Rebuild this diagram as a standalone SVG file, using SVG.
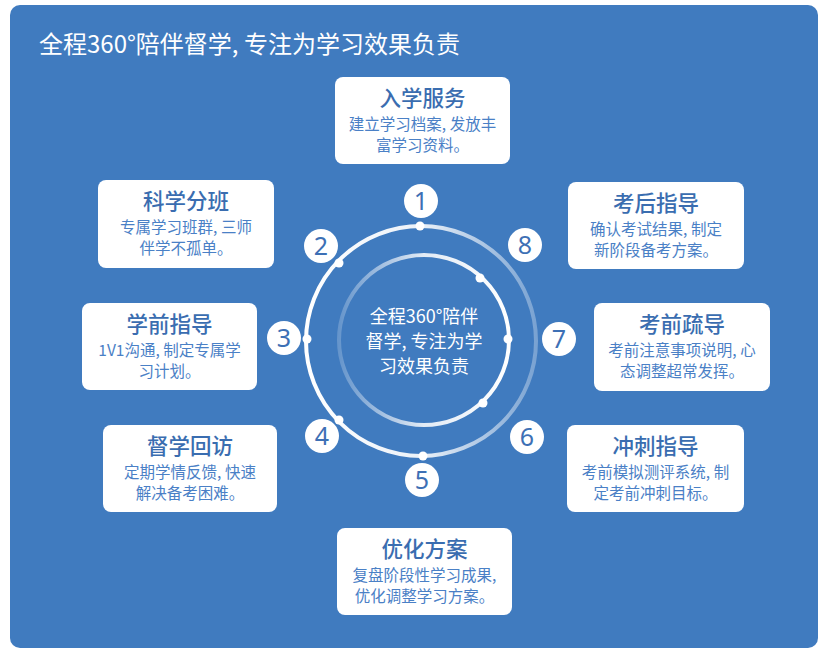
<svg xmlns="http://www.w3.org/2000/svg" width="825" height="655" viewBox="0 0 825 655">
<style>
.box{fill:#fff}
.t{font-family:"Noto Sans CJK SC","Noto Sans",sans-serif;font-size:21.5px;font-weight:500;fill:#3a6db0;text-anchor:middle}
.s{font-family:"Noto Sans CJK SC","Noto Sans",sans-serif;font-size:15.5px;fill:#4a80c6;text-anchor:middle}
.num{fill:#fff}
.n{font-family:"Noto Sans","Noto Sans CJK SC",sans-serif;font-size:25px;fill:#3d70b5;text-anchor:middle}
.dot{fill:#fff}
.w{font-family:"Noto Sans CJK SC","Noto Sans",sans-serif;fill:#fff}
</style>
<defs>
<linearGradient id="gOuter" x1="0" y1="0" x2="1" y2="0">
<stop offset="0" stop-color="#fff" stop-opacity="1"/>
<stop offset="0.5" stop-color="#fff" stop-opacity="0.9"/>
<stop offset="1" stop-color="#fff" stop-opacity="0.3"/>
</linearGradient>
<linearGradient id="gInner" x1="1" y1="0" x2="0" y2="0">
<stop offset="0" stop-color="#fff" stop-opacity="1"/>
<stop offset="0.5" stop-color="#fff" stop-opacity="0.85"/>
<stop offset="1" stop-color="#fff" stop-opacity="0.2"/>
</linearGradient>
</defs>
<rect x="10" y="5" width="808" height="643" rx="10" fill="#407bbf"/>
<text class="w" x="39" y="53" font-size="24">全程360°陪伴督学, 专注为学习效果负责</text>

<g id="connectors">
<circle cx="421" cy="341" r="115" fill="none" stroke="url(#gOuter)" stroke-width="4"/>
<circle cx="424" cy="340" r="85" fill="none" stroke="url(#gInner)" stroke-width="4"/>
<circle class="dot" cx="420" cy="226" r="4.5"/>
<circle class="dot" cx="339" cy="263" r="4.5"/>
<circle class="dot" cx="307" cy="339" r="4.5"/>
<circle class="dot" cx="339" cy="420" r="4.5"/>
<circle class="dot" cx="423" cy="456" r="4.5"/>
<circle class="dot" cx="480" cy="278" r="4.5"/>
<circle class="dot" cx="508" cy="339" r="4.5"/>
<circle class="dot" cx="483" cy="403" r="4.5"/>
</g>

<g id="center">
<text class="w" font-size="18" text-anchor="middle" x="424" y="323">全程360°陪伴</text>
<text class="w" font-size="18" text-anchor="middle" x="424" y="348">督学, 专注为学</text>
<text class="w" font-size="18" text-anchor="middle" x="424" y="373">习效果负责</text>
</g>

<g id="num1"><circle class="num" cx="421" cy="201" r="17"/><text class="n" x="421" y="210">1</text></g>
<g id="num2"><circle class="num" cx="321" cy="246" r="17"/><text class="n" x="321" y="255">2</text></g>
<g id="num3"><circle class="num" cx="284" cy="338" r="17"/><text class="n" x="284" y="347">3</text></g>
<g id="num4"><circle class="num" cx="322" cy="436" r="17"/><text class="n" x="322" y="445">4</text></g>
<g id="num5"><circle class="num" cx="422" cy="480" r="17"/><text class="n" x="422" y="489">5</text></g>
<g id="num6"><circle class="num" cx="527" cy="437" r="17"/><text class="n" x="527" y="446">6</text></g>
<g id="num7"><circle class="num" cx="559" cy="339" r="17"/><text class="n" x="559" y="348">7</text></g>
<g id="num8"><circle class="num" cx="525" cy="245" r="17"/><text class="n" x="525" y="254">8</text></g>

<g id="node1"><rect class="box" x="335" y="77" width="175" height="87" rx="8"/>
<text class="t" x="422.5" y="106">入学服务</text>
<text class="s" x="422.5" y="130">建立学习档案, 发放丰</text>
<text class="s" x="422.5" y="151">富学习资料。</text></g>

<g id="node2"><rect class="box" x="98" y="180" width="176" height="88" rx="8"/>
<text class="t" x="186" y="209">科学分班</text>
<text class="s" x="186" y="233">专属学习班群, 三师</text>
<text class="s" x="186" y="254">伴学不孤单。</text></g>

<g id="node3"><rect class="box" x="82" y="303" width="175" height="87" rx="8"/>
<text class="t" x="169.5" y="332">学前指导</text>
<text class="s" x="169.5" y="356">1V1沟通, 制定专属学</text>
<text class="s" x="169.5" y="377">习计划。</text></g>

<g id="node4"><rect class="box" x="103" y="425" width="174" height="87" rx="8"/>
<text class="t" x="190" y="454">督学回访</text>
<text class="s" x="190" y="478">定期学情反馈, 快速</text>
<text class="s" x="190" y="499">解决备考困难。</text></g>

<g id="node5"><rect class="box" x="337" y="528" width="175" height="87" rx="8"/>
<text class="t" x="424.5" y="557">优化方案</text>
<text class="s" x="424.5" y="581">复盘阶段性学习成果,</text>
<text class="s" x="424.5" y="602">优化调整学习方案。</text></g>

<g id="node6"><rect class="box" x="567" y="425" width="177" height="87" rx="8"/>
<text class="t" x="655.5" y="454">冲刺指导</text>
<text class="s" x="655.5" y="478">考前模拟测评系统, 制</text>
<text class="s" x="655.5" y="499">定考前冲刺目标。</text></g>

<g id="node7"><rect class="box" x="594" y="303" width="176" height="88" rx="8"/>
<text class="t" x="682" y="332">考前疏导</text>
<text class="s" x="682" y="356">考前注意事项说明, 心</text>
<text class="s" x="682" y="377">态调整超常发挥。</text></g>

<g id="node8"><rect class="box" x="568" y="182" width="176" height="87" rx="8"/>
<text class="t" x="656" y="211">考后指导</text>
<text class="s" x="656" y="235">确认考试结果, 制定</text>
<text class="s" x="656" y="256">新阶段备考方案。</text></g>
</svg>
